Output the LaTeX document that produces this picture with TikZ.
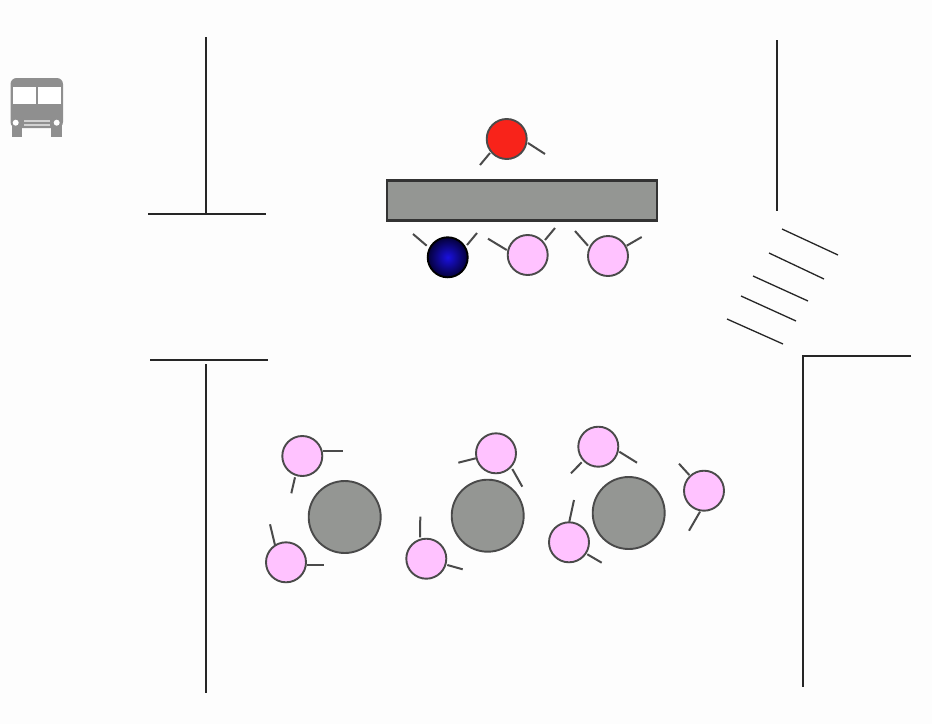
\documentclass[tikz,border=0pt]{standalone}
\definecolor{tablegrey}{HTML}{949693}
\definecolor{pinkfill}{HTML}{FFC2FF}
\definecolor{redfill}{HTML}{F8231A}
\definecolor{edgegrey}{HTML}{4A4A4A}
\definecolor{busgrey}{HTML}{8F8F8F}
\definecolor{paper}{HTML}{FDFDFD}
\definecolor{ballcentre}{HTML}{1A10E0}
\definecolor{balledge}{HTML}{04003A}
\tikzset{
  wall/.style={draw=black!85,line width=1.3pt},
  furniture/.style={draw=edgegrey,line width=1.9pt,fill=tablegrey},
  bar/.style={draw=black!80,line width=2.4pt,fill=tablegrey},
  arm/.style={draw=edgegrey,line width=2pt},
  person/.style={draw=edgegrey,line width=1.9pt,fill=pinkfill},
}
% \persona{x}{y}{style}{arm 1 start}{arm 1 end}{arm 2 start}{arm 2 end}
\newcommand{\persona}[7]{%
  \draw[arm] #4 -- #5;
  \draw[arm] #6 -- #7;
  \path[person,#3] (#1,#2) circle[radius=20];
}
\begin{document}
\begin{tikzpicture}[x=1pt,y=-1pt]
\useasboundingbox (0,0) rectangle (932,724);
\fill[paper] (0,0) rectangle (932,724);
% walls
\draw[wall] (206,37) -- (206,214);
\draw[wall] (148,214) -- (266,214);
\draw[wall] (150,360) -- (268,360);
\draw[wall] (206,364) -- (206,693);
\draw[wall] (777,40) -- (777,211);
\draw[wall] (911,356) -- (803,356) -- (803,687);
% crossing
\draw[wall] (782,229) -- (838,255);
\draw[wall] (769,253) -- (824,279);
\draw[wall] (753,276) -- (808,301);
\draw[wall] (741,296) -- (796,321);
\draw[wall] (727,319) -- (783,344);
% bus
\fill[busgrey,rounded corners=6pt] (10.5,78) rectangle (63,128);
\fill[busgrey] (12,125) rectangle (22,137);
\fill[busgrey] (51,125) rectangle (62,137);
\fill[white] (13.3,87) rectangle (35.5,103.5);
\fill[white] (38,87) rectangle (60.7,103.5);
\fill[white] (15.7,122.7) circle[radius=3];
\fill[white] (56.7,122.7) circle[radius=3];
\fill[white!60!busgrey] (24,120) rectangle (50,122);
\fill[white!60!busgrey] (24,124) rectangle (50,126);
% furniture
\path[bar] (387,180.5) rectangle (657,220.5);
\path[furniture] (344.7,517) circle[radius=36];
\path[furniture] (487.7,515.7) circle[radius=36];
\path[furniture] (628.7,513) circle[radius=36];
% people at the bar
\persona{506.7}{139}{fill=redfill}{(528,143)}{(545,154)}{(490,153)}{(480,165)}
\persona{447.7}{257.3}{inner color=ballcentre,outer color=balledge,draw=black}{(426.7,245.7)}{(413,234)}{(467,245)}{(477,233)}
\persona{527.7}{255}{}{(506.7,250)}{(488,238.7)}{(545,240)}{(555,228)}
\persona{608}{256}{}{(588,245.7)}{(575,231)}{(626.7,245.7)}{(641.7,237)}
% people at the tables
\persona{302.3}{456}{}{(322.7,450.7)}{(343,450.7)}{(295,477.3)}{(291.3,493.3)}
\persona{286}{562.3}{}{(275,545)}{(270,524.3)}{(306.7,564.7)}{(323.7,564.7)}
\persona{426.3}{558.7}{}{(420,537.3)}{(420.3,516.7)}{(447.3,565)}{(462.7,569.3)}
\persona{496}{453.3}{}{(475.7,458.3)}{(458.3,462.7)}{(512.3,469)}{(522.3,486.7)}
\persona{598.3}{446.7}{}{(581.7,462.3)}{(571,473.3)}{(619.3,451.7)}{(637,462.7)}
\persona{569}{542.3}{}{(569.3,521.7)}{(574,500)}{(587.3,554.3)}{(601.7,562.7)}
\persona{704}{490.7}{}{(689.3,475)}{(679,463.7)}{(700,511.7)}{(689,530.7)}
\end{tikzpicture}
\end{document}
